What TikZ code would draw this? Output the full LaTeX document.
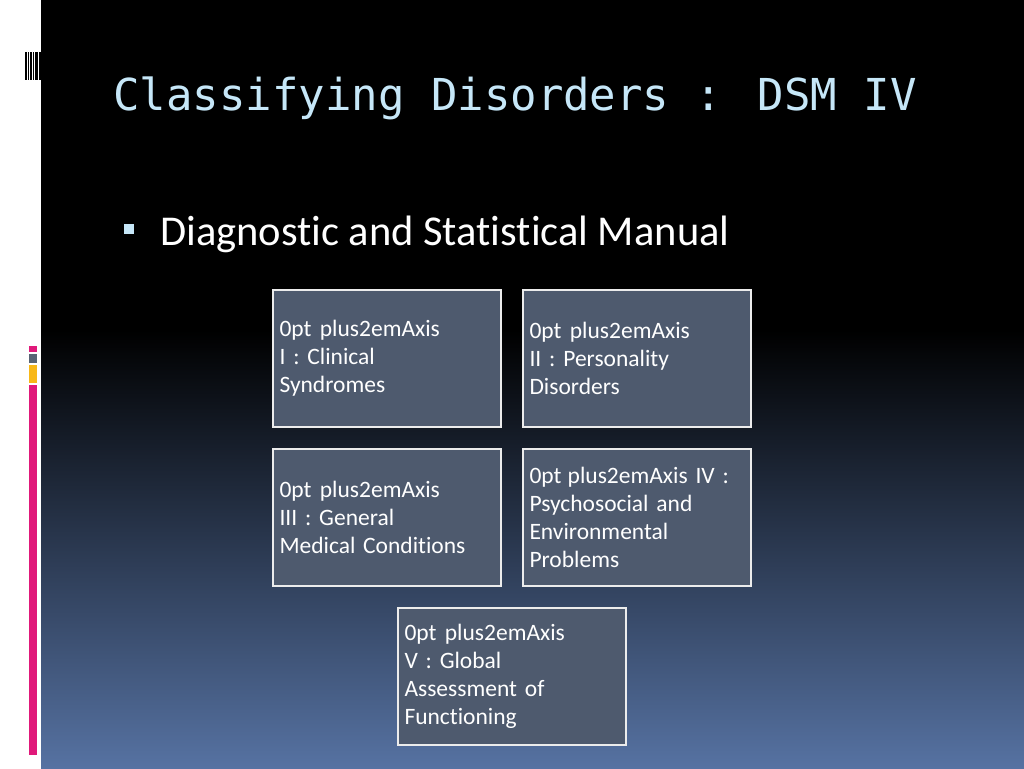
\documentclass[tikz,border=0pt]{standalone}
\usepackage{fontspec}
\setmainfont[Ligatures=CommonOff]{Carlito}
\newfontfamily\titlefont{DejaVu Sans Mono}
\definecolor{titleblue}{HTML}{C6E7F8}
\definecolor{boxfill}{HTML}{4E5A6E}
\definecolor{bgbot}{HTML}{5672A2}
\definecolor{pinkbar}{HTML}{E0197A}
\definecolor{graybar}{HTML}{586474}
\definecolor{yellowbar}{HTML}{F8B818}
\begin{document}
\begin{tikzpicture}[x=1pt,y=-1pt,
  axisbox/.style={draw=white!85!gray,line width=1.2pt,fill=boxfill,minimum width=228pt,minimum height=137pt,text width=215pt,align=center,text=white,font=\fontsize{23.5}{28}\selectfont\spaceskip=0.17em\relax}]
\useasboundingbox (0,0) rectangle (1024,768);
\fill[white] (0,0) rectangle (41,768);
\fill[black] (41,0) rectangle (1024,330);
\shade[top color=black,bottom color=bgbot] (41,330) rectangle (1024,768);
% barcode
\foreach \xx/\w in {25/1.5,28/1,30/2,33/1,35/3,39/2}{\fill[black] (\xx,52) rectangle ++(\w,28);}
\fill[pinkbar] (29,346) rectangle (37,352);
\fill[graybar] (29,354) rectangle (37,363);
\fill[yellowbar] (29,365) rectangle (37,383);
\fill[pinkbar] (29,385) rectangle (37,755);
\node[anchor=base west,text=titleblue,font=\titlefont\fontsize{44}{50}\selectfont,inner sep=0] (title) at (113,110) {Classifying Disorders : DSM IV};
\fill[titleblue] (124,224) rectangle (134,234);
\node[anchor=base west,text=white,font=\fontsize{42.5}{48}\selectfont,inner sep=0] (sub) at (160,245) {Diagnostic and Statistical Manual};
\node[axisbox] (a1) at (387,358.5) {Axis I : Clinical\\Syndromes};
\node[axisbox] (a2) at (637,358.5) {Axis II : Personality\\Disorders};
\node[axisbox] (a3) at (387,517.5) {Axis III : General\\Medical Conditions};
\node[axisbox] (a4) at (637,517.5) {Axis IV :\\Psychosocial and\\Environmental\\Problems};
\node[axisbox] (a5) at (512,676.5) {Axis V : Global\\Assessment of\\Functioning};
\end{tikzpicture}
\end{document}
